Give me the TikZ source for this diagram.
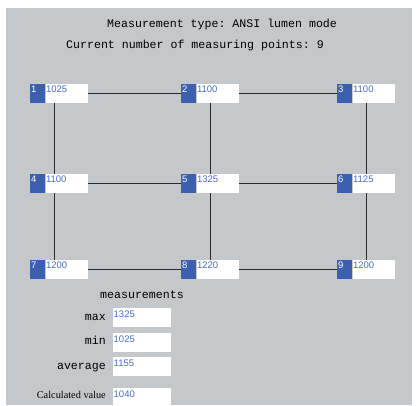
\documentclass[tikz,border=0pt]{standalone}
\usepackage{fontspec}
\setmainfont{Liberation Serif}
\setsansfont{Liberation Sans}
\setmonofont{Liberation Mono}
\usetikzlibrary{positioning}
\definecolor{panel}{HTML}{C4C8CA}
\definecolor{idxblue}{HTML}{3D5FAF}
\definecolor{valblue}{HTML}{4A6BC8}
\definecolor{wire}{HTML}{2A2A2A}
\tikzset{
  idxbox/.style={rectangle, fill=idxblue, text=white, anchor=north west,
    font=\sffamily\fontsize{9.5}{10}\selectfont, text width=13pt, align=left,
    inner xsep=1pt, inner ysep=0pt, text height=8.5pt, text depth=10.5pt},
  valbox/.style={rectangle, fill=white, text=valblue, anchor=north west,
    font=\sffamily\fontsize{9.5}{10}\selectfont, text width=41pt, align=left,
    inner xsep=0.5pt, inner ysep=0pt, text height=8.5pt, text depth=10.5pt},
  resbox/.style={valbox, text width=57pt, text height=9.5pt, text depth=9.5pt},
  mono/.style={font=\ttfamily\fontsize{11.6}{13}\selectfont, inner sep=0pt, anchor=base west},
  lbl/.style={mono, anchor=base east}
}
\begin{document}
\begin{tikzpicture}[x=1pt, y=-1pt]
  \useasboundingbox (0,0) rectangle (419,405);
  \fill[panel] (6,8) rectangle (412,405);

  \node[mono] (title) at (107,27.5) {Measurement type: ANSI lumen mode};
  \node[mono] (count) at (66,48.3) {Current number of measuring points: 9};

  \coordinate (c1) at (54,0);
  \coordinate (c2) at (210,0);
  \coordinate (c3) at (366,0);

  \node[idxbox] (i1) at (30,84) {1};
  \node[valbox] (v1) at (i1.north east) {1025};
  \node[idxbox] (i2) at (181,84) {2};
  \node[valbox] (v2) at (i2.north east) {1100};
  \node[idxbox] (i3) at (337,84) {3};
  \node[valbox] (v3) at (i3.north east) {1100};

  \node[idxbox] (i4) at (30,174) {4};
  \node[valbox] (v4) at (i4.north east) {1100};
  \node[idxbox] (i5) at (181,174) {5};
  \node[valbox] (v5) at (i5.north east) {1325};
  \node[idxbox] (i6) at (337,174) {6};
  \node[valbox] (v6) at (i6.north east) {1125};

  \node[idxbox] (i7) at (30,260) {7};
  \node[valbox] (v7) at (i7.north east) {1200};
  \node[idxbox] (i8) at (181,260) {8};
  \node[valbox] (v8) at (i8.north east) {1220};
  \node[idxbox] (i9) at (337,260) {9};
  \node[valbox] (v9) at (i9.north east) {1200};

  \draw[wire, line width=1pt]
               (v1.east) -- (i2.west)
               (v2.east) -- (i3.west)
               (v4.east) -- (i5.west)
               (v5.east) -- (i6.west)
               (v7.east) -- (i8.west)
               (v8.east) -- (i9.west)
               (v1.south -| c1) -- (v4.north -| c1)
               (v4.south -| c1) -- (v7.north -| c1)
               (v2.south -| c2) -- (v5.north -| c2)
               (v5.south -| c2) -- (v8.north -| c2)
               (v3.south -| c3) -- (v6.north -| c3)
               (v6.south -| c3) -- (v9.north -| c3);

  \node[mono] (mhead) at (100,298.5) {measurements};
  \node[resbox] (rmax) at (113,308) {1325};
  \node[resbox] (rmin) at (113,333) {1025};
  \node[resbox] (ravg) at (113,357) {1155};
  \node[resbox] (rcalc) at (113,388) {1040};
  \node[lbl] (lmax) at (106,320) {max};
  \node[lbl] (lmin) at (106,344.3) {min};
  \node[lbl] (lavg) at (106,369) {average};
  \node[inner sep=0pt, anchor=base east, font=\fontsize{10.3}{12}\selectfont] (lcalc) at (106,398.3) {Calculated value};
\end{tikzpicture}
\end{document}
